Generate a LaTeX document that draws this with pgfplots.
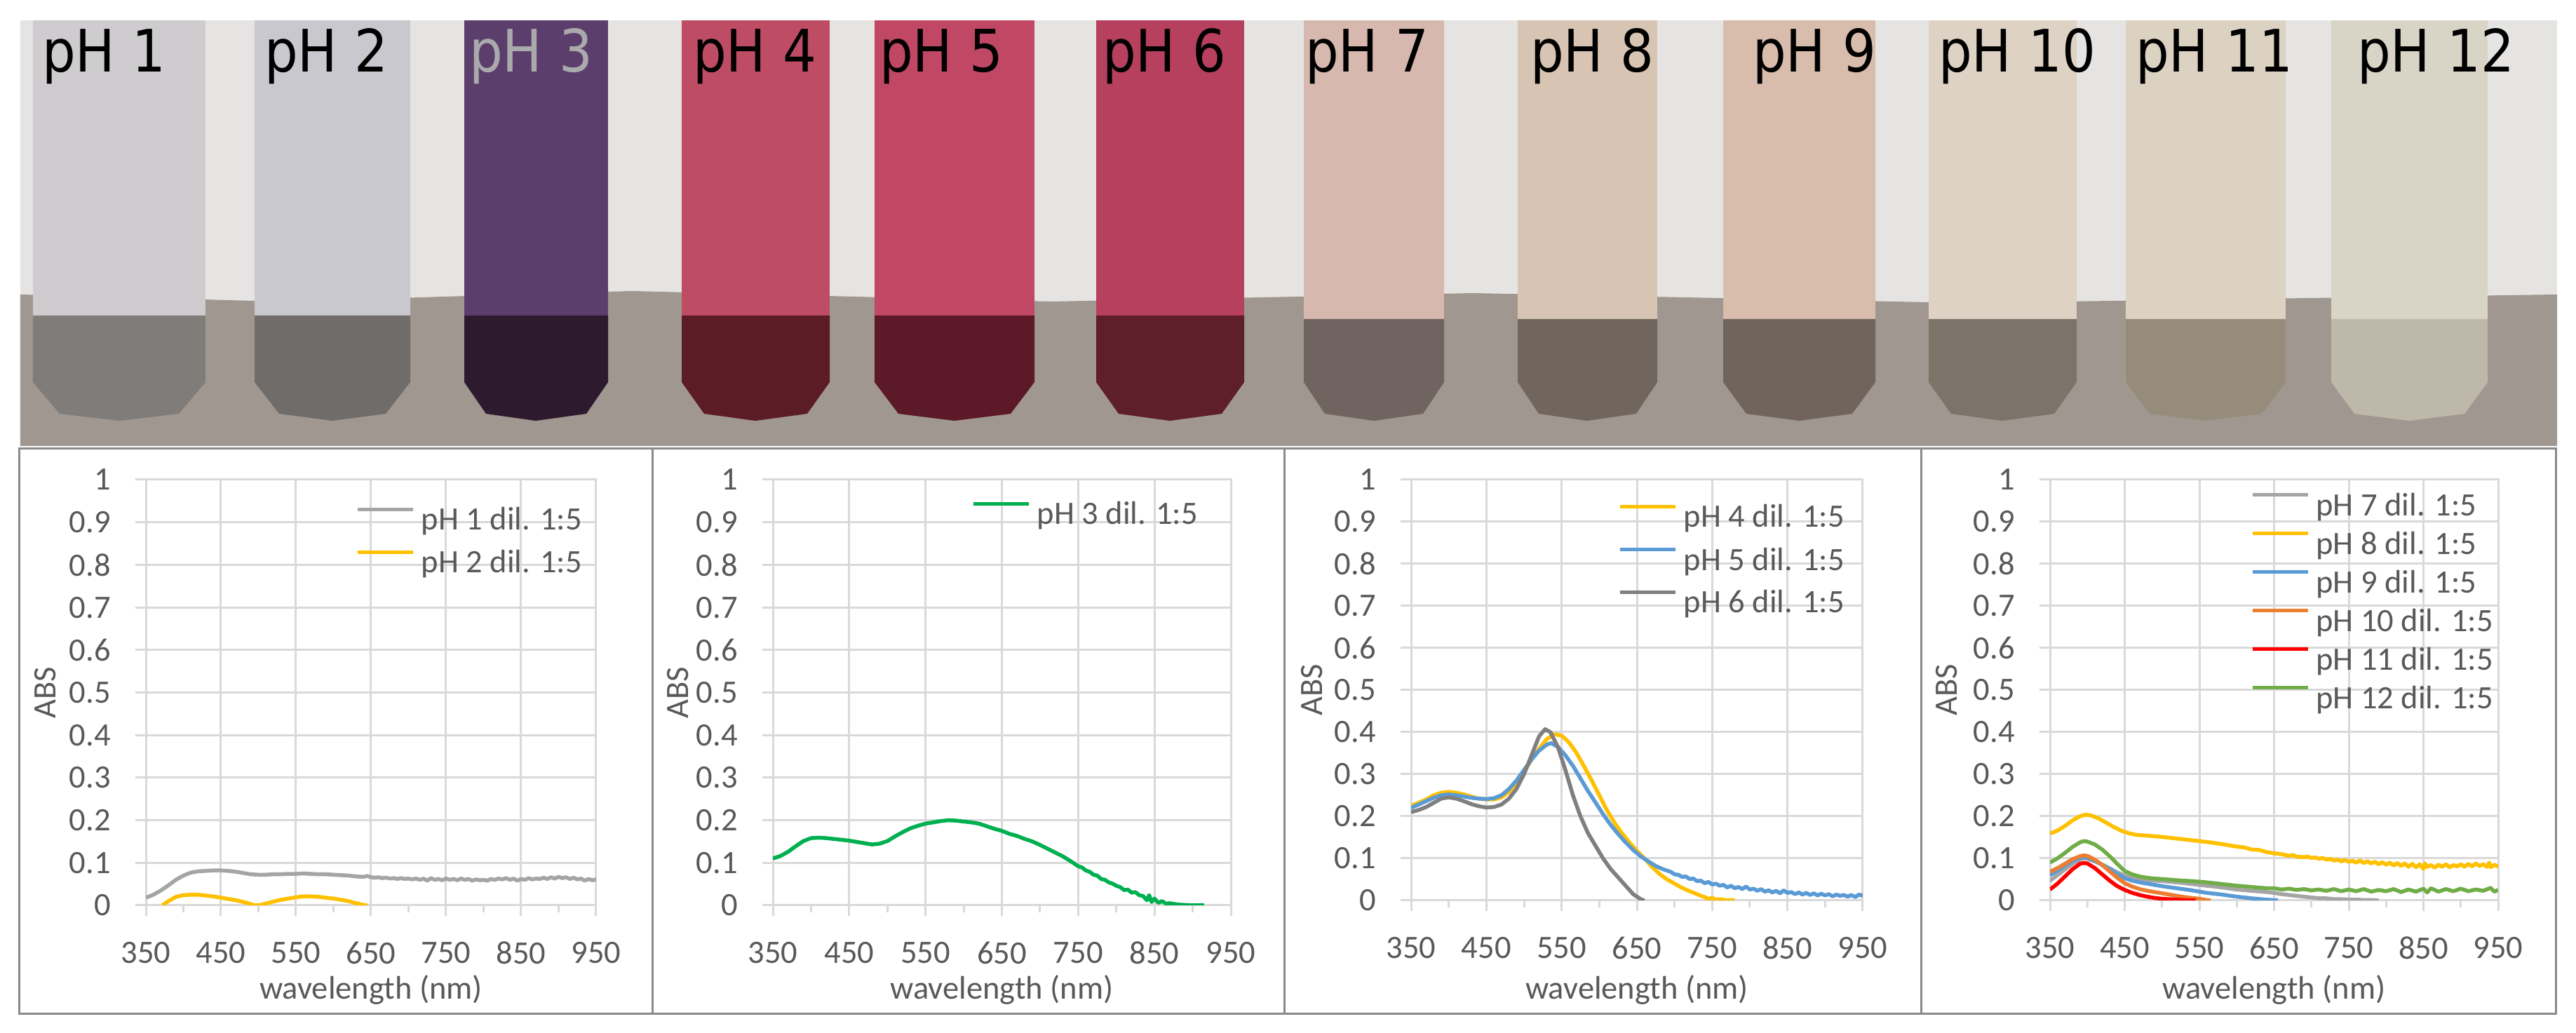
\documentclass[border=0pt]{standalone}
\usepackage{fontspec}
\setmainfont{Carlito}
\newfontfamily\phfont{DejaVu Sans}
\usepackage{pgfplots}
\pgfplotsset{compat=1.18}
\definecolor{gridgray}{HTML}{D9D9D9}
\definecolor{textgray}{HTML}{595959}
\definecolor{framegray}{HTML}{8A8A8A}
\definecolor{cgray}{HTML}{A5A5A5}
\definecolor{cyellow}{HTML}{FFC000}
\definecolor{cgreen}{HTML}{00B050}
\definecolor{cblue}{HTML}{5B9BD5}
\definecolor{cdgray}{HTML}{7F7F7F}
\definecolor{corange}{HTML}{ED7D31}
\definecolor{cred}{HTML}{FF0000}
\definecolor{cgreenb}{HTML}{70AD47}
\newcommand{\tf}{\fontsize{9.3}{11}\selectfont}
\pgfplotsset{
  panel/.style={
    scale only axis, xmin=350, xmax=950, ymin=0, ymax=1,
    xtick={350,450,550,650,750,850,950},
    minor xtick={400,500,600,700,800,900},
    ytick={0,0.1,0.2,0.3,0.4,0.5,0.6,0.7,0.8,0.9,1},
    grid=major, major grid style={gridgray, line width=0.6pt},
    axis line style={gridgray, line width=0.6pt},
    tick align=outside, xtick pos=bottom, ytick pos=left,
    major tick length=3pt, minor tick length=2pt,
    every tick/.style={gridgray, line width=0.6pt},
    /pgf/number format/assume math mode=true,
    /pgf/number format/fixed, /pgf/number format/precision=1,
    ticklabel style={font=\tf, text=textgray},
    xticklabel style={yshift=-3.9pt},
    yticklabel style={xshift=-3.5pt},
    label style={font=\tf, text=textgray},
    xlabel={wavelength (nm)}, ylabel={ABS},
    every axis plot/.append style={no markers, line width=1.1pt, line join=round},
    legend cell align=left,
    legend image code/.code={\draw[##1, line width=1.1pt] (0pt,2.9pt) -- (15.8pt,2.9pt); \path (17.6pt,2.9pt);},
    legend style={draw=none, fill=none, font=\tf, text=textgray, anchor=north east,
      inner sep=0pt, inner xsep=0pt, inner ysep=0pt,
      nodes={inner sep=0pt, text height=7pt, text depth=1pt}, row sep=4.2pt},
  }
}
\begin{document}
\begin{tikzpicture}
\useasboundingbox (0,0) rectangle (734.6pt,294.6pt);
\fill[white] (0,0) rectangle (734.6pt,294.6pt);
% ---------- photo stand-in ----------
\begin{axis}[scale only axis, at={(5.8pt,167.4pt)}, anchor=south west,
  width=723.4pt, height=121.4pt, xmin=29, xmax=3646, ymin=29, ymax=636,
  y dir=reverse, hide axis, clip=true]
\addplot[fill={rgb,255:red,230;green,228;blue,226}, draw=none] coordinates {(29,29) (3646,29) (3646,440) (29,440)} -- cycle;
\addplot[fill={rgb,255:red,160;green,152;blue,144}, draw=none] coordinates {(29,420) (400,430) (900,415) (1500,430) (2100,418) (2800,432) (3646,420) (3646,636) (29,636)} -- cycle;
% tubes: upper liquid part and darker bottom part
\addplot[fill={rgb,255:red,206;green,204;blue,206}, draw=none] coordinates {(47,29) (293,29) (293,450) (47,450)} -- cycle;
\addplot[fill={rgb,255:red,128;green,124;blue,122}, draw=none] coordinates {(47,450) (293,450) (293,545) (255,590) (170,600) (85,590) (47,545)} -- cycle;
\addplot[fill={rgb,255:red,200;green,200;blue,206}, draw=none] coordinates {(363,29) (585,29) (585,450) (363,450)} -- cycle;
\addplot[fill={rgb,255:red,112;green,108;blue,106}, draw=none] coordinates {(363,450) (585,450) (585,545) (550,590) (474,600) (398,590) (363,545)} -- cycle;
\addplot[fill={rgb,255:red,92;green,62;blue,108}, draw=none] coordinates {(662,29) (867,29) (867,450) (662,450)} -- cycle;
\addplot[fill={rgb,255:red,46;green,26;blue,46}, draw=none] coordinates {(662,450) (867,450) (867,545) (836,590) (764,600) (693,590) (662,545)} -- cycle;
\addplot[fill={rgb,255:red,190;green,76;blue,100}, draw=none] coordinates {(972,29) (1183,29) (1183,450) (972,450)} -- cycle;
\addplot[fill={rgb,255:red,92;green,28;blue,38}, draw=none] coordinates {(972,450) (1183,450) (1183,545) (1151,590) (1077,600) (1004,590) (972,545)} -- cycle;
\addplot[fill={rgb,255:red,192;green,72;blue,100}, draw=none] coordinates {(1247,29) (1475,29) (1475,450) (1247,450)} -- cycle;
\addplot[fill={rgb,255:red,92;green,26;blue,40}, draw=none] coordinates {(1247,450) (1475,450) (1475,545) (1441,590) (1361,600) (1281,590) (1247,545)} -- cycle;
\addplot[fill={rgb,255:red,182;green,64;blue,94}, draw=none] coordinates {(1563,29) (1774,29) (1774,450) (1563,450)} -- cycle;
\addplot[fill={rgb,255:red,94;green,30;blue,42}, draw=none] coordinates {(1563,450) (1774,450) (1774,545) (1742,590) (1668,600) (1595,590) (1563,545)} -- cycle;
\addplot[fill={rgb,255:red,214;green,184;blue,174}, draw=none] coordinates {(1859,29) (2059,29) (2059,455) (1859,455)} -- cycle;
\addplot[fill={rgb,255:red,112;green,100;blue,96}, draw=none] coordinates {(1859,455) (2059,455) (2059,545) (2029,590) (1959,600) (1889,590) (1859,545)} -- cycle;
\addplot[fill={rgb,255:red,216;green,196;blue,178}, draw=none] coordinates {(2164,29) (2363,29) (2363,455) (2164,455)} -- cycle;
\addplot[fill={rgb,255:red,112;green,102;blue,94}, draw=none] coordinates {(2164,455) (2363,455) (2363,545) (2333,590) (2263,600) (2194,590) (2164,545)} -- cycle;
\addplot[fill={rgb,255:red,216;green,188;blue,172}, draw=none] coordinates {(2457,29) (2674,29) (2674,455) (2457,455)} -- cycle;
\addplot[fill={rgb,255:red,112;green,100;blue,92}, draw=none] coordinates {(2457,455) (2674,455) (2674,545) (2641,590) (2565,600) (2490,590) (2457,545)} -- cycle;
\addplot[fill={rgb,255:red,222;green,210;blue,196}, draw=none] coordinates {(2750,29) (2961,29) (2961,455) (2750,455)} -- cycle;
\addplot[fill={rgb,255:red,124;green,116;blue,104}, draw=none] coordinates {(2750,455) (2961,455) (2961,545) (2929,590) (2855,600) (2782,590) (2750,545)} -- cycle;
\addplot[fill={rgb,255:red,220;green,210;blue,194}, draw=none] coordinates {(3031,29) (3259,29) (3259,455) (3031,455)} -- cycle;
\addplot[fill={rgb,255:red,150;green,140;blue,124}, draw=none] coordinates {(3031,455) (3259,455) (3259,545) (3225,590) (3145,600) (3065,590) (3031,545)} -- cycle;
\addplot[fill={rgb,255:red,216;green,212;blue,198}, draw=none] coordinates {(3324,29) (3547,29) (3547,455) (3324,455)} -- cycle;
\addplot[fill={rgb,255:red,190;green,184;blue,170}, draw=none] coordinates {(3324,455) (3547,455) (3547,545) (3514,590) (3435,600) (3357,590) (3324,545)} -- cycle;
\begin{scope}[every node/.style={font=\phfont\fontsize{16.7}{18}\selectfont, anchor=base, xscale=0.9, inner sep=0pt}]
\node at (axis cs:148,103) {pH 1};
\node at (axis cs:465,103) {pH 2};
\node[text={rgb,255:red,170;green,170;blue,172}] at (axis cs:757,103) {pH 3};
\node at (axis cs:1076,103) {pH 4};
\node at (axis cs:1342,103) {pH 5};
\node at (axis cs:1660,103) {pH 6};
\node at (axis cs:1949,103) {pH 7};
\node at (axis cs:2270,103) {pH 8};
\node at (axis cs:2587,103) {pH 9};
\node at (axis cs:2876,103) {pH 10};
\node at (axis cs:3157,103) {pH 11};
\node at (axis cs:3473,103) {pH 12};
\end{scope}
\end{axis}
% ---------- panel frames ----------
\draw[framegray, line width=0.6pt] (5.4pt,5.4pt) rectangle (728.8pt,166.6pt);
\draw[framegray, line width=0.6pt] (186pt,5.4pt) -- (186pt,166.6pt);
\draw[framegray, line width=0.6pt] (366.2pt,5.4pt) -- (366.2pt,166.6pt);
\draw[framegray, line width=0.6pt] (547.8pt,5.4pt) -- (547.8pt,166.6pt);
% ---------- panel 1 ----------
\begin{axis}[panel, at={(41.6pt,36.4pt)}, anchor=south west, width=128.4pt, height=121.4pt,
  ylabel style={at={(axis description cs:-0.224,0.5)}, anchor=center},
  xlabel style={at={(axis description cs:0.5,-0.199)}, anchor=center},
  legend style={at={(1,1)}, xshift=-3.8pt, yshift=-7.2pt}]
\addplot[cgray] coordinates {(350,0.018) (360,0.025) (370,0.035) (380,0.047) (390,0.060) (400,0.070) (410,0.077) (420,0.080) (430,0.081) (440,0.082) (450,0.082) (460,0.081) (470,0.079) (480,0.076) (490,0.073) (500,0.072) (510,0.072) (520,0.073) (530,0.073) (540,0.074) (550,0.074) (560,0.075) (570,0.074) (580,0.073) (590,0.073) (600,0.072) (610,0.071) (620,0.070) (630,0.068) (640,0.067) (645,0.069) (650,0.066) (655,0.065) (660,0.066) (665,0.064) (670,0.065) (675,0.063) (680,0.064) (685,0.062) (690,0.064) (695,0.062) (700,0.063) (705,0.061) (710,0.063) (715,0.060) (720,0.063) (725,0.058) (730,0.064) (735,0.060) (740,0.062) (745,0.059) (750,0.063) (755,0.060) (760,0.062) (765,0.059) (770,0.063) (775,0.060) (780,0.062) (785,0.058) (790,0.061) (795,0.059) (800,0.060) (805,0.058) (810,0.062) (815,0.060) (820,0.063) (825,0.061) (830,0.064) (835,0.060) (840,0.063) (845,0.058) (850,0.062) (855,0.060) (860,0.064) (865,0.061) (870,0.063) (875,0.062) (880,0.065) (885,0.062) (890,0.066) (895,0.063) (900,0.067) (905,0.064) (910,0.066) (915,0.062) (920,0.065) (925,0.061) (930,0.063) (935,0.058) (940,0.062) (945,0.059) (950,0.061)};
\addlegendentry{pH 1 dil. 1:5}
\addplot[cyellow] coordinates {(372,0) (380,0.010) (390,0.020) (400,0.024) (410,0.025) (420,0.025) (430,0.023) (440,0.021) (450,0.018) (460,0.015) (470,0.012) (480,0.008) (490,0.003) (495,0.0) (500,0.0) (510,0.004) (520,0.009) (530,0.013) (540,0.016) (550,0.019) (560,0.021) (570,0.021) (580,0.020) (590,0.018) (600,0.016) (610,0.013) (620,0.010) (630,0.005) (640,0.001) (645,0)};
\addlegendentry{pH 2 dil. 1:5}
\end{axis}
% ---------- panel 2 ----------
\begin{axis}[panel, at={(220.4pt,36.4pt)}, anchor=south west, width=130.6pt, height=121.4pt,
  ylabel style={at={(axis description cs:-0.207,0.5)}, anchor=center},
  xlabel style={at={(axis description cs:0.5,-0.199)}, anchor=center},
  legend style={at={(1,1)}, xshift=-9.2pt, yshift=-5.6pt}]
\addplot[cgreen] coordinates {(350,0.110) (360,0.116) (370,0.126) (380,0.139) (390,0.151) (400,0.158) (410,0.159) (420,0.158) (430,0.156) (440,0.154) (450,0.152) (460,0.149) (470,0.146) (480,0.143) (490,0.145) (500,0.151) (510,0.162) (520,0.172) (530,0.181) (540,0.187) (550,0.192) (560,0.195) (570,0.198) (580,0.200) (590,0.199) (600,0.197) (610,0.195) (620,0.192) (630,0.186) (640,0.180) (650,0.175) (660,0.168) (670,0.163) (680,0.156) (690,0.150) (700,0.142) (710,0.133) (720,0.124) (730,0.115) (740,0.104) (750,0.092) (755,0.089) (760,0.082) (765,0.079) (770,0.072) (775,0.070) (780,0.062) (785,0.060) (790,0.054) (795,0.051) (800,0.046) (805,0.043) (810,0.036) (815,0.037) (820,0.030) (825,0.031) (830,0.024) (835,0.022) (840,0.012) (843,0.024) (846,0.008) (850,0.016) (855,0.006) (860,0.010) (865,0.004) (870,0.005) (880,0.002) (890,0.001) (900,0.000) (915,0.000)};
\addlegendentry{pH 3 dil. 1:5}
\end{axis}
% ---------- panel 3 ----------
\begin{axis}[panel, at={(402.4pt,37.8pt)}, anchor=south west, width=128.8pt, height=120pt,
  ylabel style={at={(axis description cs:-0.220,0.5)}, anchor=center},
  xlabel style={at={(axis description cs:0.5,-0.213)}, anchor=center},
  legend style={at={(1,1)}, xshift=-5pt, yshift=-6.4pt}]
\addplot[cyellow] coordinates {(350,0.225) (360,0.232) (370,0.240) (380,0.250) (390,0.256) (400,0.258) (410,0.256) (420,0.252) (430,0.247) (440,0.242) (450,0.240) (460,0.240) (470,0.245) (480,0.258) (490,0.280) (500,0.305) (510,0.335) (520,0.360) (530,0.383) (540,0.395) (550,0.392) (560,0.375) (570,0.350) (580,0.318) (590,0.285) (600,0.250) (610,0.215) (620,0.185) (630,0.160) (640,0.138) (650,0.118) (660,0.100) (670,0.080) (680,0.063) (690,0.050) (700,0.040) (710,0.030) (720,0.022) (730,0.015) (735,0.011) (740,0.008) (745,0.004) (750,0.006) (755,0.002) (760,0.003) (770,0.000) (780,0.001)};
\addlegendentry{pH 4 dil. 1:5}
\addplot[cblue] coordinates {(350,0.220) (360,0.228) (370,0.236) (380,0.244) (390,0.250) (400,0.252) (410,0.250) (420,0.247) (430,0.244) (440,0.242) (450,0.241) (460,0.243) (470,0.250) (480,0.265) (490,0.285) (500,0.310) (510,0.335) (520,0.356) (530,0.370) (536,0.374) (545,0.365) (555,0.345) (565,0.320) (575,0.290) (585,0.260) (595,0.233) (605,0.205) (615,0.180) (625,0.158) (635,0.138) (645,0.120) (655,0.105) (665,0.093) (675,0.082) (685,0.074) (695,0.068) (700,0.062) (705,0.061) (710,0.056) (715,0.057) (720,0.051) (725,0.052) (730,0.046) (735,0.047) (740,0.041) (745,0.044) (750,0.038) (755,0.040) (760,0.035) (765,0.037) (770,0.031) (775,0.035) (780,0.029) (785,0.032) (790,0.027) (795,0.033) (800,0.026) (805,0.028) (810,0.023) (815,0.027) (820,0.021) (825,0.024) (830,0.019) (835,0.023) (840,0.017) (845,0.024) (850,0.018) (855,0.020) (860,0.015) (865,0.019) (870,0.014) (875,0.018) (880,0.013) (885,0.017) (890,0.012) (895,0.016) (900,0.012) (905,0.015) (910,0.010) (915,0.014) (920,0.011) (925,0.013) (930,0.009) (935,0.013) (940,0.008) (945,0.014) (950,0.011)};
\addlegendentry{pH 5 dil. 1:5}
\addplot[cdgray] coordinates {(350,0.210) (360,0.215) (370,0.222) (380,0.232) (390,0.242) (400,0.245) (410,0.242) (420,0.236) (430,0.229) (440,0.224) (450,0.221) (460,0.222) (470,0.228) (480,0.242) (490,0.265) (500,0.300) (510,0.345) (520,0.390) (528,0.407) (535,0.400) (545,0.365) (555,0.310) (565,0.250) (575,0.200) (585,0.160) (595,0.130) (605,0.100) (615,0.075) (625,0.055) (635,0.035) (645,0.015) (655,0.003) (660,0.000)};
\addlegendentry{pH 6 dil. 1:5}
\end{axis}
% ---------- panel 4 ----------
\begin{axis}[panel, at={(584.6pt,37.8pt)}, anchor=south west, width=127.8pt, height=120pt,
  ylabel style={at={(axis description cs:-0.230,0.5)}, anchor=center},
  xlabel style={at={(axis description cs:0.5,-0.213)}, anchor=center},
  legend style={at={(1,1)}, xshift=-1.2pt, yshift=-3pt, row sep=3pt}]
\addplot[cgray] coordinates {(350,0.047) (360,0.060) (370,0.074) (380,0.087) (390,0.097) (395,0.100) (400,0.099) (410,0.093) (420,0.085) (430,0.076) (440,0.067) (450,0.059) (460,0.053) (470,0.050) (480,0.048) (490,0.047) (500,0.046) (520,0.043) (540,0.039) (560,0.035) (580,0.031) (600,0.026) (620,0.023) (640,0.020) (650,0.018) (660,0.015) (670,0.013) (680,0.011) (690,0.009) (700,0.007) (710,0.005) (720,0.005) (730,0.003) (740,0.003) (750,0.002) (760,0.002) (770,0.001) (780,0.001) (790,0.000)};
\addlegendentry{pH 7 dil. 1:5}
\addplot[cyellow] coordinates {(350,0.159) (360,0.166) (370,0.177) (380,0.190) (390,0.200) (398,0.204) (405,0.202) (415,0.195) (425,0.185) (435,0.175) (445,0.166) (455,0.160) (465,0.156) (480,0.154) (500,0.151) (520,0.147) (540,0.143) (560,0.139) (580,0.134) (600,0.128) (610,0.126) (620,0.121) (630,0.120) (640,0.115) (650,0.112) (660,0.110) (670,0.106) (675,0.108) (680,0.104) (690,0.103) (695,0.104) (700,0.101) (705,0.102) (710,0.099) (715,0.101) (720,0.097) (725,0.099) (730,0.095) (735,0.097) (740,0.093) (745,0.096) (750,0.092) (755,0.094) (760,0.090) (765,0.095) (770,0.089) (775,0.093) (780,0.088) (785,0.092) (790,0.086) (795,0.091) (800,0.085) (805,0.090) (810,0.083) (815,0.089) (820,0.082) (825,0.088) (830,0.080) (835,0.087) (840,0.079) (845,0.086) (850,0.075) (852,0.088) (855,0.080) (860,0.084) (865,0.078) (870,0.085) (875,0.080) (880,0.086) (885,0.079) (890,0.084) (895,0.081) (900,0.086) (905,0.080) (910,0.087) (915,0.081) (920,0.088) (925,0.082) (930,0.086) (935,0.080) (938,0.090) (940,0.079) (945,0.085) (950,0.080)};
\addlegendentry{pH 8 dil. 1:5}
\addplot[cblue] coordinates {(350,0.060) (360,0.071) (370,0.083) (380,0.094) (390,0.101) (395,0.103) (400,0.102) (410,0.094) (420,0.085) (430,0.075) (440,0.063) (450,0.053) (460,0.047) (470,0.043) (480,0.040) (490,0.037) (500,0.034) (520,0.029) (540,0.024) (560,0.018) (580,0.014) (600,0.009) (620,0.005) (640,0.002) (655,0.000)};
\addlegendentry{pH 9 dil. 1:5}
\addplot[corange] coordinates {(350,0.068) (360,0.077) (370,0.087) (380,0.098) (390,0.105) (395,0.107) (400,0.106) (410,0.097) (420,0.084) (430,0.069) (440,0.054) (450,0.041) (460,0.033) (470,0.027) (480,0.023) (490,0.020) (500,0.017) (510,0.014) (520,0.011) (530,0.008) (540,0.006) (550,0.004) (560,0.001) (565,0.000)};
\addlegendentry{pH 10 dil. 1:5}
\addplot[cred] coordinates {(350,0.026) (360,0.040) (370,0.057) (380,0.074) (390,0.087) (395,0.089) (400,0.088) (410,0.077) (420,0.062) (430,0.047) (440,0.034) (450,0.025) (460,0.018) (470,0.013) (480,0.009) (490,0.006) (500,0.004) (510,0.003) (520,0.002) (530,0.001) (545,0.000)};
\addlegendentry{pH 11 dil. 1:5}
\addplot[cgreenb] coordinates {(350,0.090) (360,0.100) (370,0.113) (380,0.127) (390,0.138) (395,0.141) (400,0.140) (410,0.133) (420,0.121) (430,0.105) (440,0.087) (450,0.070) (460,0.062) (470,0.057) (480,0.054) (490,0.052) (500,0.051) (520,0.048) (540,0.046) (560,0.043) (580,0.039) (600,0.035) (620,0.032) (640,0.029) (650,0.029) (660,0.026) (670,0.028) (680,0.025) (690,0.027) (700,0.024) (710,0.026) (720,0.023) (730,0.027) (740,0.022) (750,0.026) (760,0.022) (770,0.027) (780,0.021) (790,0.025) (800,0.022) (810,0.027) (820,0.020) (830,0.026) (840,0.021) (850,0.028) (855,0.019) (860,0.029) (870,0.021) (880,0.027) (890,0.022) (900,0.028) (910,0.022) (920,0.026) (930,0.023) (940,0.030) (945,0.021) (950,0.025)};
\addlegendentry{pH 12 dil. 1:5}
\end{axis}
\end{tikzpicture}
\end{document}
